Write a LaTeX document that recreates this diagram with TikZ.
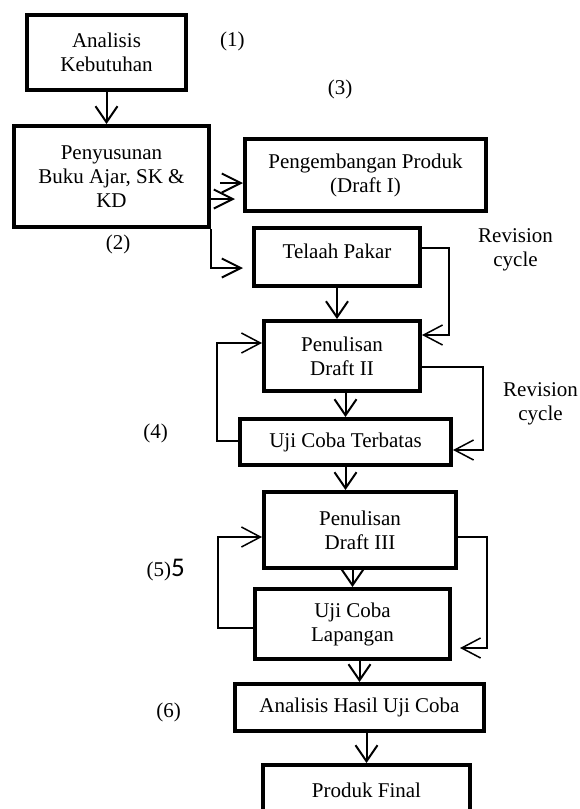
\documentclass[tikz,border=0pt]{standalone}
\usepackage{fontspec}
\setmainfont{Liberation Serif}
\newfontfamily\calibri{Carlito}
\usetikzlibrary{arrows.meta, positioning}
\tikzstyle{stage} = [rectangle, draw, line width=4pt, outer sep=2pt, inner sep=0pt, align=center, text centered]
\tikzstyle{note} = [inner sep=3.33pt, align=center]
\tikzstyle{flow} = [line width=2pt, -{Straight Barb[length=16pt, width=22pt]}]
\tikzstyle{link} = [line width=2pt, -{Straight Barb[length=19pt, width=19pt]}]
\tikzstyle{revise} = [line width=1.5pt, -{Straight Barb[length=19pt, width=20pt]}]

\begin{document}
\begin{tikzpicture}[x=1pt, y=1pt, font=\fontsize{21}{24}\selectfont]
  \useasboundingbox (0,0) rectangle (580,-809);
  \node (ak) [stage, minimum width=159pt, minimum height=75pt] at (106.5,-52.5) {Analisis\\Kebutuhan};
  \node (pk) [stage, minimum width=195pt, minimum height=101pt, below=32pt of ak, xshift=5pt] {Penyusunan\\Buku Ajar, SK \&\\KD};
  \node (dr1) [stage, minimum width=241pt, minimum height=72pt, right=32pt of pk, yshift=1.5pt] {Pengembangan Produk\\(Draft I)};
  \node (tp) [stage, minimum width=166pt, minimum height=58pt, text depth=12pt, below=13pt of dr1, xshift=-28.5pt] {Telaah Pakar};
  \node (dr2) [stage, minimum width=156pt, minimum height=70pt, below=31pt of tp, xshift=5pt] {Penulisan\\Draft II};
  \node (ut) [stage, minimum width=211pt, minimum height=46pt, below=24pt of dr2, xshift=3.5pt] {Uji Coba Terbatas};
  \node (dr3) [stage, minimum width=192pt, minimum height=76pt, below=23pt of ut, xshift=14.5pt] {Penulisan\\Draft III};
  \node (ul) [stage, minimum width=195pt, minimum height=70pt, below=17pt of dr3, xshift=-7.5pt] {Uji Coba\\Lapangan};
  \node (ah) [stage, minimum width=249pt, minimum height=47pt, below=21pt of ul, xshift=7pt] {Analisis Hasil Uji Coba};
  \node (pf) [stage, minimum width=207pt, minimum height=50pt, below=30pt of ah, xshift=7pt] {Produk Final};
  \node (n1) [note, right=28.7pt of ak, yshift=11.5pt] {(1)};
  \node (n2) [note, below=2.5pt of pk, xshift=6.5pt] {(2)};
  \node (n3) [note, above=34.5pt of dr1, xshift=-25.5pt] {(3)};
  \node (n4) [note, left=66.7pt of ut, yshift=9pt] {(4)};
  \node (n5) [note, left=73.7pt of dr3, yshift=-40.5pt] {(5){\calibri\fontsize{27}{27}\selectfont 5}};
  \node (n6) [note, left=48.7pt of ah, yshift=-4.5pt] {(6)};
  \node (rc1) [note, right=52.7pt of tp, yshift=7pt] {Revision\\cycle};
  \node (rc2) [note, right=46.7pt of ut, yshift=38pt] {Revision\\cycle};
  \draw [flow] (ak.south) -- (ak.south |- pk.north);
  \draw [link, shorten <=9pt] ([yshift=-6.5pt]pk.east) -- ([yshift=-6.5pt]pk.east -| dr1.west);
  \draw [link, shorten >=8pt] ([yshift=-22.5pt]pk.east) -- ([yshift=-22.5pt]pk.east -| dr1.west);
  \draw [link, shorten >=9pt] (pk.south east) |- ([yshift=-11pt]tp.west);
  \draw [flow] (tp.south) -- (tp.south |- dr2.north);
  \draw [flow] (dr2.south -| ut.north) -- (ut.north);
  \draw [flow] (ut.south) -- (ut.south |- dr3.north);
  \draw [flow] (dr3.south -| ul.north) -- (ul.north);
  \draw [flow] (ul.south -| ah.north) -- (ah.north);
  \draw [flow] (ah.south -| pf.north) -- (pf.north);
  \draw [revise] ([yshift=9pt]tp.east) -- ++(27pt,0) |- ([yshift=21pt]dr2.east);
  \draw [revise] ([yshift=-11pt]dr2.east) -- ++(61pt,0) |- ([yshift=-8pt]ut.east);
  \draw [revise] ([yshift=1pt]ut.west) -- ++(-21pt,0) |- ([yshift=13pt]dr2.west);
  \draw [revise] ([yshift=-4pt]ul.west) -- ++(-35pt,0) |- ([yshift=-7pt]dr3.west);
  \draw [revise, shorten >=8pt] ([yshift=-7pt]dr3.east) -- ++(29pt,0) |- ([yshift=-24pt]ul.east);
\end{tikzpicture}
\end{document}
